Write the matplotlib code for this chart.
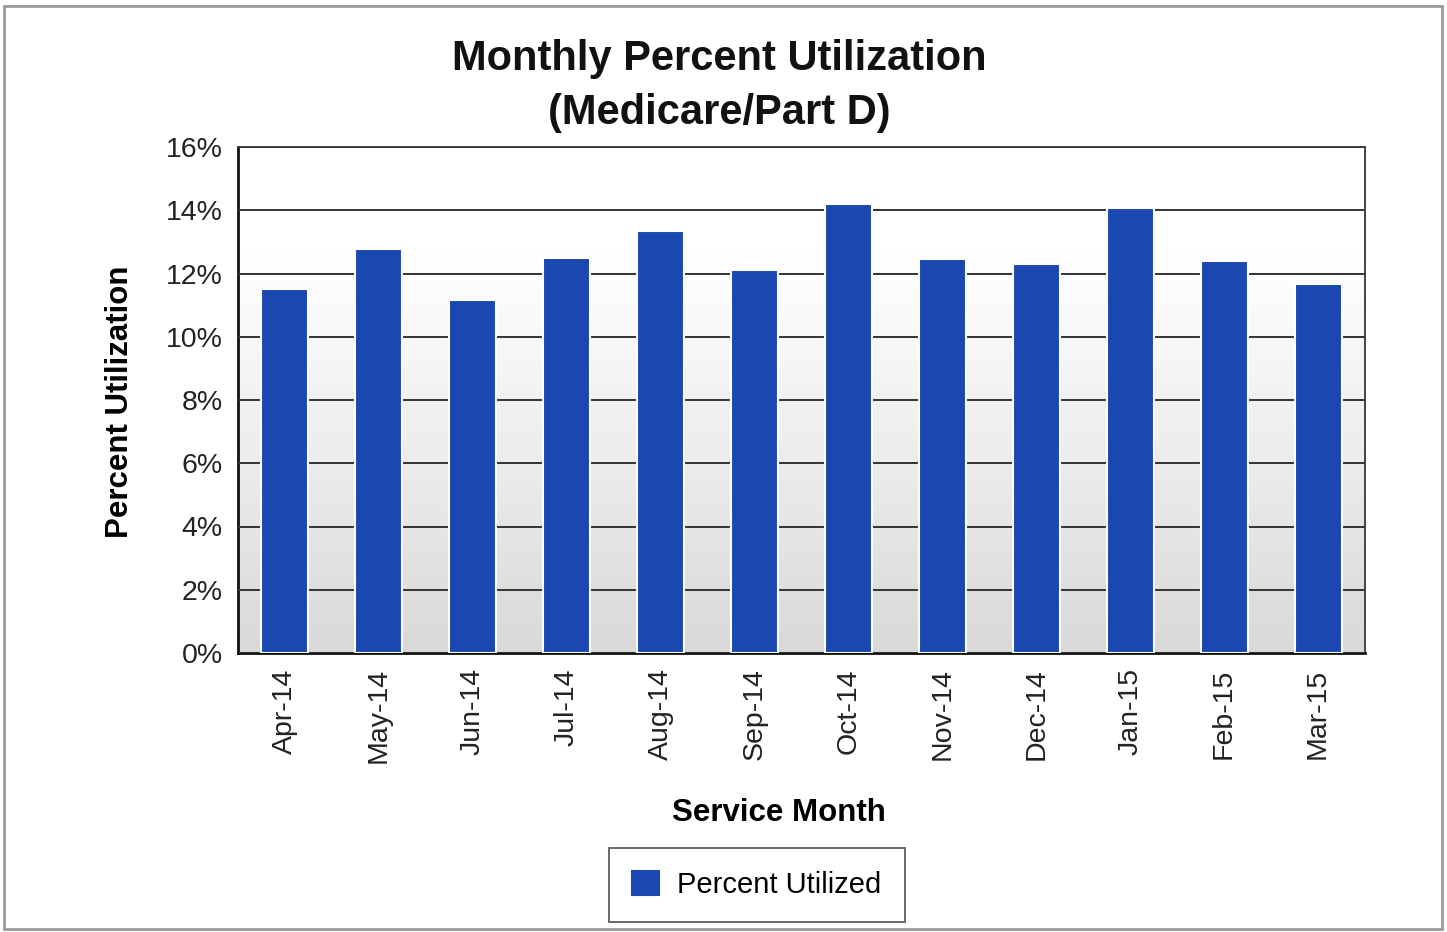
import numpy as np
import matplotlib
matplotlib.use("Agg")
import matplotlib.pyplot as plt
from matplotlib.patches import Rectangle
from matplotlib.ticker import FuncFormatter, MultipleLocator

plt.rcParams["font.family"] = ["Liberation Sans", "DejaVu Sans"]

# data
months = ["Apr-14", "May-14", "Jun-14", "Jul-14", "Aug-14", "Sep-14",
          "Oct-14", "Nov-14", "Dec-14", "Jan-15", "Feb-15", "Mar-15"]
pct_utilized = [11.5, 12.77, 11.16, 12.5, 13.33, 12.1,
                14.19, 12.45, 12.29, 14.07, 12.39, 11.66]

fig = plt.figure(figsize=(14.47, 9.32), dpi=100)
ax = fig.add_axes([238 / 1447, 1 - 653 / 932, 1127 / 1447, 506 / 932])

# outer chart border
fig.patches.append(Rectangle((4 / 1447, 1 - 929 / 932), 1438 / 1447, 923 / 932,
                             transform=fig.transFigure, fill=False,
                             edgecolor="#9a9a9a", lw=2))

# gradient plot background (white top -> light gray bottom)
t = np.linspace(0, 1, 256).reshape(-1, 1)
shade = 1 - 0.15 * np.clip((t - 0.2) / 0.8, 0, 1) ** 1.1
grad = np.dstack([shade, shade, shade])
ax.imshow(grad, extent=[-0.5, 11.5, 0, 16], aspect="auto", origin="upper",
          zorder=0, interpolation="bicubic")

x = np.arange(len(months))
ax.bar(x, pct_utilized, width=0.5, color="#1b47b0", edgecolor="white",
       linewidth=1.5, zorder=3, label="Percent Utilized")

ax.set_xlim(-0.5, 11.5)
ax.set_ylim(0, 16)
ax.yaxis.set_major_locator(MultipleLocator(2))
ax.yaxis.set_major_formatter(FuncFormatter(lambda v, p: "%d%%" % v))
ax.grid(axis="y", color="#333333", lw=1.4, zorder=1)
ax.set_axisbelow(False)
for gl in ax.get_ygridlines():
    gl.set_zorder(1)

ax.set_xticks(x)
ax.set_xticklabels(months, rotation=90, fontsize=20.5, color="#222222")
ax.tick_params(axis="both", length=0, pad=11, labelsize=20.5, labelcolor="#222222")

for side in ["left", "bottom"]:
    ax.spines[side].set_linewidth(2)
    ax.spines[side].set_color("#111111")
for side in ["top", "right"]:
    ax.spines[side].set_linewidth(1.4)
    ax.spines[side].set_color("#444444")

ax.set_xlabel("Service Month", fontsize=22.5, fontweight="bold", va="center")
ax.xaxis.set_label_coords(0.48, -0.316)
ax.set_ylabel("Percent Utilization", fontsize=22.5, fontweight="bold", va="center")
ax.yaxis.set_label_coords(-0.105, 0.496)

fig.text(0.4972, 1 - 86 / 932, "Monthly Percent Utilization\n(Medicare/Part D)",
         ha="center", va="center", fontsize=30, fontweight="bold",
         linespacing=1.45, color="#111111")

leg = ax.legend(loc="center", bbox_to_anchor=(757 / 1447, 1 - 885 / 932),
                bbox_transform=fig.transFigure, fontsize=21, fancybox=False,
                edgecolor="#444444", handlelength=0.9, handleheight=0.9,
                borderpad=0.8, handletextpad=0.65, borderaxespad=0)
leg.get_frame().set_linewidth(1.4)
for h in leg.legend_handles:
    h.set_edgecolor("#1b47b0")

fig.savefig("out.png", dpi=100)
